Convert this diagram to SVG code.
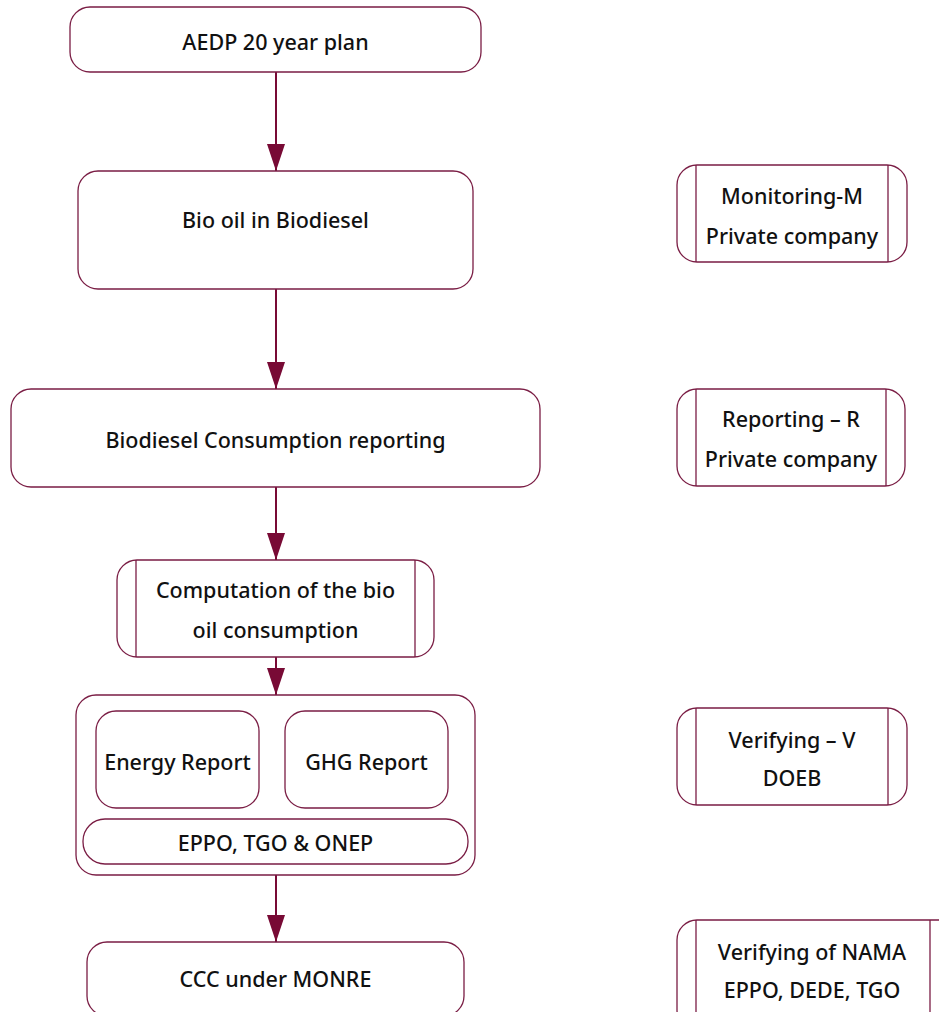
<svg xmlns="http://www.w3.org/2000/svg" width="939" height="1012" viewBox="0 0 939 1012">
  <style>
    .box { fill: #ffffff; stroke: #7a1d44; stroke-width: 1.3; }
    .bar { fill: none; stroke: #7a1d44; stroke-width: 1.3; }
    .lbl { font-family: "Noto Sans", "Open Sans", sans-serif; font-size: 21.5px; font-weight: 500; fill: #111111; text-anchor: middle; }
    .link { stroke: #780a35; stroke-width: 2; fill: none; }
  </style>
  <defs>
    <marker id="head" markerUnits="userSpaceOnUse" markerWidth="27" markerHeight="18" refX="27" refY="9" orient="auto">
      <path d="M0,0 L27,9 L0,18 Z" fill="#780a35"/>
    </marker>
  </defs>
  <rect width="939" height="1012" fill="#ffffff"/>

  <g id="connectors">
    <line class="link" x1="276" y1="72" x2="276" y2="171" marker-end="url(#head)"/>
    <line class="link" x1="276" y1="289" x2="276" y2="389" marker-end="url(#head)"/>
    <line class="link" x1="276" y1="487" x2="276" y2="560" marker-end="url(#head)"/>
    <line class="link" x1="276" y1="657" x2="276" y2="695" marker-end="url(#head)"/>
    <line class="link" x1="276" y1="875" x2="276" y2="942" marker-end="url(#head)"/>
  </g>

  <g id="aedp">
    <rect class="box" x="70" y="7" width="411" height="65" rx="20"/>
    <text class="lbl" x="275.5" y="50">AEDP 20 year plan</text>
  </g>

  <g id="bio-oil">
    <rect class="box" x="78" y="171" width="395" height="118" rx="20"/>
    <text class="lbl" x="275.5" y="228">Bio oil in Biodiesel</text>
  </g>

  <g id="consumption-reporting">
    <rect class="box" x="11" y="389" width="529" height="98" rx="20"/>
    <text class="lbl" x="275.5" y="448">Biodiesel Consumption reporting</text>
  </g>

  <g id="computation">
    <rect class="box" x="117" y="560" width="317" height="97" rx="20"/>
    <line class="bar" x1="136" y1="560" x2="136" y2="657"/>
    <line class="bar" x1="415" y1="560" x2="415" y2="657"/>
    <text class="lbl" x="275.5" y="598">Computation of the bio</text>
    <text class="lbl" x="275.5" y="638">oil consumption</text>
  </g>

  <g id="reports">
    <rect class="box" x="76" y="695" width="399" height="180" rx="20"/>
    <g id="energy-report">
      <rect class="box" x="96" y="711" width="163" height="97" rx="20"/>
      <text class="lbl" x="177.5" y="770">Energy Report</text>
    </g>
    <g id="ghg-report">
      <rect class="box" x="285" y="711" width="163" height="97" rx="20"/>
      <text class="lbl" x="366.5" y="770">GHG Report</text>
    </g>
    <g id="agencies">
      <rect class="box" x="83" y="819" width="385" height="45" rx="22"/>
      <text class="lbl" x="275.5" y="851">EPPO, TGO &amp; ONEP</text>
    </g>
  </g>

  <g id="ccc">
    <rect class="box" x="87" y="942" width="377" height="74" rx="20"/>
    <text class="lbl" x="275.5" y="987">CCC under MONRE</text>
  </g>

  <g id="monitoring">
    <rect class="box" x="677" y="165" width="230" height="97" rx="20"/>
    <line class="bar" x1="696" y1="165" x2="696" y2="262"/>
    <line class="bar" x1="888" y1="165" x2="888" y2="262"/>
    <text class="lbl" x="792" y="204">Monitoring-M</text>
    <text class="lbl" x="792" y="244">Private company</text>
  </g>

  <g id="reporting">
    <rect class="box" x="677" y="389" width="228" height="97" rx="20"/>
    <line class="bar" x1="696" y1="389" x2="696" y2="486"/>
    <line class="bar" x1="886" y1="389" x2="886" y2="486"/>
    <text class="lbl" x="791" y="427">Reporting – R</text>
    <text class="lbl" x="791" y="467">Private company</text>
  </g>

  <g id="verifying">
    <rect class="box" x="677" y="708" width="230" height="97" rx="20"/>
    <line class="bar" x1="696" y1="708" x2="696" y2="805"/>
    <line class="bar" x1="888" y1="708" x2="888" y2="805"/>
    <text class="lbl" x="792" y="748">Verifying – V</text>
    <text class="lbl" x="792" y="786">DOEB</text>
  </g>

  <g id="nama">
    <rect class="box" x="677" y="920" width="290" height="110" rx="20"/>
    <line class="bar" x1="696" y1="920" x2="696" y2="1012"/>
    <line class="bar" x1="930" y1="920" x2="930" y2="1012"/>
    <text class="lbl" x="812" y="960">Verifying of NAMA</text>
    <text class="lbl" x="812" y="998">EPPO, DEDE, TGO</text>
  </g>
</svg>
